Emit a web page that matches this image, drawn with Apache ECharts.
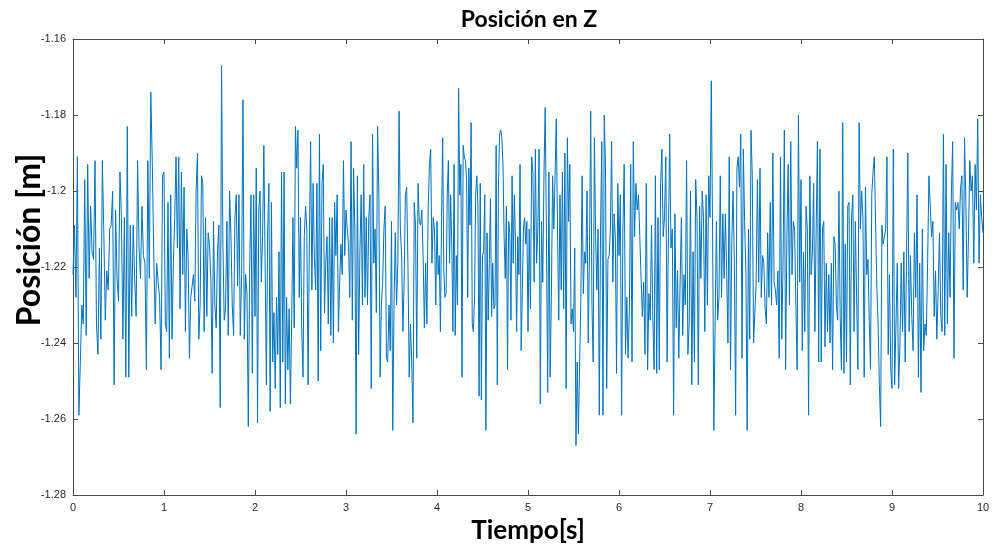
<!DOCTYPE html>
<html>
<head>
<meta charset="utf-8">
<script src="https://cdn.jsdelivr.net/npm/echarts@6/dist/echarts.min.js"></script>
<style>
  html, body { margin: 0; padding: 0; background: #ffffff; }
  #chart { width: 992px; height: 545px; }
</style>
</head>
<body>
<div id="chart"></div>
<script>
// Z position samples [m], one array per second of recording (0-1 s, 1-2 s, ...)
const seg0 = [-1.222, -1.209, -1.228, -1.191, -1.259, -1.245, -1.230, -1.235, -1.197, -1.238, -1.193, -1.223, -1.204, -1.216, -1.218, -1.192, -1.235, -1.243, -1.215, -1.239, -1.192, -1.211, -1.234, -1.221, -1.226, -1.210, -1.209, -1.200, -1.251, -1.205, -1.223, -1.229, -1.195, -1.207, -1.239, -1.207, -1.249, -1.183, -1.249, -1.209, -1.233, -1.209, -1.223, -1.233, -1.192, -1.215, -1.223, -1.204, -1.217, -1.219, -1.247, -1.192, -1.223, -1.174, -1.192, -1.216, -1.235, -1.219, -1.224, -1.228, -1.247, -1.196];
const seg1 = [-1.195, -1.235, -1.237, -1.203, -1.244, -1.201, -1.239, -1.219, -1.207, -1.191, -1.215, -1.191, -1.231, -1.195, -1.222, -1.199, -1.237, -1.210, -1.217, -1.244, -1.228, -1.225, -1.222, -1.229, -1.200, -1.190, -1.239, -1.230, -1.196, -1.198, -1.237, -1.207, -1.233, -1.211, -1.214, -1.223, -1.248, -1.208, -1.230, -1.236, -1.216, -1.209, -1.257, -1.167, -1.214, -1.234, -1.231, -1.208, -1.238, -1.200, -1.211, -1.230, -1.238, -1.207, -1.201, -1.225, -1.201, -1.238, -1.222, -1.176, -1.239, -1.222, -1.227, -1.262, -1.221, -1.201, -1.248, -1.201];
const seg2 = [-1.233, -1.194, -1.261, -1.205, -1.200, -1.224, -1.212, -1.188, -1.219, -1.251, -1.211, -1.198, -1.258, -1.203, -1.245, -1.232, -1.252, -1.228, -1.243, -1.216, -1.257, -1.195, -1.245, -1.195, -1.256, -1.228, -1.247, -1.231, -1.256, -1.235, -1.207, -1.236, -1.183, -1.194, -1.184, -1.228, -1.207, -1.237, -1.249, -1.212, -1.204, -1.210, -1.251, -1.214, -1.187, -1.226, -1.198, -1.218, -1.226, -1.198, -1.250, -1.185, -1.242, -1.198, -1.193, -1.232, -1.219, -1.212, -1.235, -1.207, -1.238, -1.207, -1.240, -1.203, -1.217, -1.201, -1.237, -1.224, -1.214, -1.222, -1.192, -1.217];
const seg3 = [-1.205, -1.210, -1.214, -1.228, -1.187, -1.234, -1.194, -1.210, -1.264, -1.196, -1.243, -1.216, -1.201, -1.230, -1.193, -1.228, -1.207, -1.230, -1.207, -1.201, -1.252, -1.185, -1.219, -1.210, -1.232, -1.183, -1.201, -1.249, -1.230, -1.224, -1.210, -1.204, -1.244, -1.245, -1.230, -1.242, -1.208, -1.263, -1.230, -1.211, -1.230, -1.219, -1.179, -1.210, -1.217, -1.237, -1.224, -1.201, -1.199, -1.219, -1.249, -1.235, -1.245, -1.261, -1.203, -1.209, -1.244, -1.198, -1.208, -1.209, -1.205, -1.217, -1.236, -1.219, -1.235, -1.205, -1.193, -1.189, -1.219, -1.207, -1.210, -1.230];
const seg4 = [-1.208, -1.222, -1.217, -1.237, -1.207, -1.186, -1.221, -1.228, -1.227, -1.201, -1.192, -1.219, -1.201, -1.214, -1.237, -1.193, -1.238, -1.217, -1.230, -1.173, -1.201, -1.193, -1.249, -1.188, -1.191, -1.192, -1.197, -1.228, -1.194, -1.209, -1.182, -1.235, -1.237, -1.228, -1.201, -1.196, -1.204, -1.254, -1.198, -1.255, -1.217, -1.216, -1.201, -1.263, -1.211, -1.234, -1.219, -1.202, -1.233, -1.219, -1.231, -1.230, -1.188, -1.251, -1.199, -1.185, -1.184, -1.186, -1.193, -1.212, -1.223, -1.204, -1.247, -1.208, -1.211, -1.234, -1.196, -1.219, -1.201, -1.214, -1.237, -1.212, -1.222, -1.193, -1.242, -1.226, -1.210, -1.207, -1.214, -1.208];
const seg5 = [-1.237, -1.210, -1.231, -1.191, -1.195, -1.224, -1.189, -1.219, -1.210, -1.189, -1.256, -1.208, -1.224, -1.195, -1.178, -1.212, -1.253, -1.195, -1.249, -1.228, -1.196, -1.210, -1.196, -1.181, -1.210, -1.234, -1.201, -1.226, -1.195, -1.231, -1.190, -1.252, -1.186, -1.208, -1.193, -1.235, -1.231, -1.237, -1.215, -1.267, -1.245, -1.264, -1.245, -1.228, -1.196, -1.227, -1.216, -1.219, -1.200, -1.240, -1.216, -1.179, -1.230, -1.245, -1.186, -1.212, -1.226, -1.210, -1.259, -1.210, -1.187, -1.259, -1.180, -1.193, -1.252, -1.218, -1.217, -1.210, -1.187, -1.224, -1.206, -1.212, -1.248, -1.198];
const seg6 = [-1.217, -1.201, -1.259, -1.210, -1.193, -1.243, -1.228, -1.244, -1.231, -1.193, -1.245, -1.187, -1.212, -1.198, -1.205, -1.201, -1.212, -1.223, -1.233, -1.224, -1.243, -1.198, -1.247, -1.227, -1.234, -1.209, -1.233, -1.247, -1.196, -1.248, -1.207, -1.247, -1.198, -1.189, -1.212, -1.207, -1.191, -1.245, -1.212, -1.185, -1.215, -1.210, -1.259, -1.206, -1.236, -1.221, -1.244, -1.224, -1.207, -1.238, -1.222, -1.230, -1.192, -1.243, -1.235, -1.200, -1.251, -1.216, -1.245, -1.197, -1.207, -1.251, -1.204, -1.223, -1.200, -1.207, -1.237, -1.201, -1.230, -1.196];
const seg7 = [-1.207, -1.171, -1.210, -1.263, -1.235, -1.208, -1.234, -1.228, -1.196, -1.228, -1.206, -1.223, -1.206, -1.221, -1.240, -1.191, -1.247, -1.213, -1.200, -1.219, -1.259, -1.194, -1.191, -1.199, -1.185, -1.244, -1.189, -1.208, -1.221, -1.263, -1.210, -1.239, -1.184, -1.196, -1.240, -1.232, -1.224, -1.197, -1.224, -1.194, -1.228, -1.217, -1.219, -1.231, -1.235, -1.211, -1.228, -1.203, -1.230, -1.190, -1.224, -1.226, -1.230, -1.221, -1.244, -1.191, -1.239, -1.219, -1.184, -1.247, -1.212, -1.193, -1.230, -1.187, -1.222, -1.208, -1.210, -1.230, -1.247, -1.180, -1.224];
const seg8 = [-1.197, -1.242, -1.216, -1.237, -1.204, -1.210, -1.259, -1.196, -1.222, -1.216, -1.198, -1.237, -1.210, -1.187, -1.245, -1.189, -1.245, -1.210, -1.208, -1.241, -1.219, -1.237, -1.222, -1.240, -1.219, -1.247, -1.212, -1.214, -1.230, -1.234, -1.200, -1.233, -1.247, -1.182, -1.248, -1.214, -1.245, -1.204, -1.203, -1.251, -1.207, -1.201, -1.237, -1.208, -1.228, -1.247, -1.182, -1.210, -1.200, -1.207, -1.249, -1.199, -1.222, -1.218, -1.234, -1.247, -1.201, -1.195, -1.191, -1.208, -1.225, -1.235, -1.251, -1.262, -1.209, -1.214, -1.212, -1.210, -1.191, -1.243, -1.222, -1.247];
const seg9 = [-1.252, -1.189, -1.251, -1.235, -1.219, -1.252, -1.241, -1.219, -1.237, -1.216, -1.245, -1.218, -1.190, -1.237, -1.217, -1.233, -1.242, -1.211, -1.228, -1.201, -1.249, -1.219, -1.253, -1.210, -1.242, -1.235, -1.238, -1.219, -1.196, -1.196, -1.212, -1.208, -1.233, -1.221, -1.239, -1.226, -1.211, -1.233, -1.237, -1.185, -1.238, -1.193, -1.235, -1.211, -1.228, -1.201, -1.187, -1.244, -1.203, -1.205, -1.203, -1.210, -1.199, -1.196, -1.226, -1.186, -1.203, -1.228, -1.212, -1.192, -1.200, -1.196, -1.219, -1.193, -1.205, -1.181, -1.219, -1.201, -1.207];
const lastValue = -1.211; // sample at t = 10 s

// Axis ranges and ticks
const xTicks = { min: 0, max: 10, step: 1 };
const yTicks = { min: -1.28, max: -1.16, step: 0.02 };

// Spread each second's samples evenly over that second
const segments = [seg0, seg1, seg2, seg3, seg4, seg5, seg6, seg7, seg8, seg9];
const points = [];
segments.forEach((seg, s) => {
  seg.forEach((v, j) => points.push([s + j / seg.length, v]));
});
points.push([segments.length, lastValue]);

const axisColor = '#4a4a4a';
const labelColor = '#262626';
const labelFont = 'Liberation Sans';
const titleFont = 'Lato';

const chart = echarts.init(document.getElementById('chart'), null, { renderer: 'canvas' });

const boxX = (pos, showLabel) => ({
  type: 'value',
  position: pos,
  min: xTicks.min, max: xTicks.max, interval: xTicks.step,
  axisLine: { show: true, onZero: false, lineStyle: { color: axisColor, width: 1 } },
  axisTick: { show: true, inside: true, length: 5, lineStyle: { color: axisColor } },
  axisLabel: { show: showLabel, color: labelColor, fontFamily: labelFont, fontSize: 11, margin: 7 },
  splitLine: { show: false }
});
const boxY = (pos, showLabel) => ({
  type: 'value',
  position: pos,
  min: yTicks.min, max: yTicks.max, interval: yTicks.step,
  axisLine: { show: true, onZero: false, lineStyle: { color: axisColor, width: 1 } },
  axisTick: { show: true, inside: true, length: 5, lineStyle: { color: axisColor } },
  axisLabel: { show: showLabel, color: labelColor, fontFamily: labelFont, fontSize: 11, margin: 7 },
  splitLine: { show: false }
});

const xBottom = Object.assign(boxX('bottom', true), {
  name: 'Tiempo[s]',
  nameLocation: 'middle',
  nameGap: 13,
  nameTextStyle: { fontFamily: titleFont, fontWeight: 'bold', fontSize: 26, color: '#000000', verticalAlign: 'top' }
});

chart.setOption({
  animation: false,
  backgroundColor: '#ffffff',
  title: {
    text: 'Posición en Z',
    left: 524, top: 3, textAlign: 'center',
    textStyle: { fontFamily: titleFont, fontWeight: 'bold', fontSize: 23, color: '#000000' }
  },
  grid: { left: 73, right: 9, top: 39, bottom: 50, containLabel: false, outerBoundsMode: 'none' },
  xAxis: [xBottom, boxX('top', false)],
  yAxis: [boxY('left', true), boxY('right', false)],
  graphic: [{
    type: 'text',
    x: 30, y: 240,
    rotation: Math.PI / 2,
    style: {
      text: 'Posición [m]',
      fontFamily: titleFont, fontWeight: 'bold', fontSize: 32,
      fill: '#000000',
      textAlign: 'center', textVerticalAlign: 'middle'
    }
  }],
  series: [{
    type: 'line',
    xAxisIndex: 0,
    yAxisIndex: 0,
    data: points,
    showSymbol: false,
    symbol: 'none',
    lineStyle: { color: '#0072BD', width: 1 },
    clip: true
  }]
});
</script>
</body>
</html>
